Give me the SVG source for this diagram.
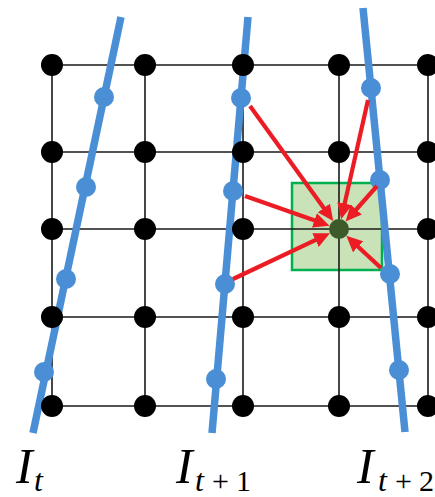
<svg xmlns="http://www.w3.org/2000/svg" width="435" height="497" viewBox="0 0 435 497">
<defs>
<style>
.grid{stroke:#1a1a1a;stroke-width:1.6;fill:none}
.node{fill:#000}
.blue{stroke:#4a8fd6;stroke-width:7.5;fill:none;stroke-linecap:butt}
.bdot{fill:#4a8fd6}
.arr{stroke:#ec1c24;stroke-width:4.2;fill:none;marker-end:url(#ah)}
.lbl{font-family:"Liberation Serif","Times New Roman",serif;fill:#000}
</style>
<marker id="ah" markerUnits="userSpaceOnUse" markerWidth="16" markerHeight="15" refX="8" refY="7.5" orient="auto">
<path d="M0,0 L16,7.5 L0,15 z" fill="#ec1c24"/>
</marker>
</defs>
<rect x="0" y="0" width="435" height="497" fill="#fff"/>
<g id="window">
<rect x="292" y="183" width="90" height="87" fill="#c9e2b8" stroke="#00b050" stroke-width="2.5"/>
</g>
<g id="grid-lines">
<path class="grid" d="M52,65H428M52,152H428M52,229H428M52,317H428M52,406H428M52,65V406M145,65V406M243,65V406M339,65V406M428,65V406"/>
</g>
<g id="frame-It">
<line class="blue" x1="121" y1="17" x2="33" y2="433"/>
<circle class="bdot" cx="104" cy="97" r="10"/>
<circle class="bdot" cx="86" cy="187" r="10"/>
<circle class="bdot" cx="66" cy="279" r="10"/>
<circle class="bdot" cx="44" cy="372" r="10"/>
</g>
<g id="frame-It1">
<line class="blue" x1="248" y1="17" x2="212" y2="433"/>
<circle class="bdot" cx="241" cy="98" r="10"/>
<circle class="bdot" cx="233" cy="191" r="10"/>
<circle class="bdot" cx="225" cy="284" r="10"/>
<circle class="bdot" cx="216" cy="379" r="10"/>
</g>
<g id="frame-It2">
<line class="blue" x1="363" y1="8" x2="405" y2="432"/>
<circle class="bdot" cx="371" cy="88" r="10"/>
<circle class="bdot" cx="380" cy="180" r="10"/>
<circle class="bdot" cx="390" cy="274" r="10"/>
<circle class="bdot" cx="399" cy="370" r="10"/>
</g>
<g id="pixels">
<circle class="node" cx="52" cy="65" r="11"/><circle class="node" cx="145" cy="65" r="11"/><circle class="node" cx="243" cy="65" r="11"/><circle class="node" cx="339" cy="65" r="11"/><circle class="node" cx="428" cy="65" r="11"/>
<circle class="node" cx="52" cy="152" r="11"/><circle class="node" cx="145" cy="152" r="11"/><circle class="node" cx="243" cy="152" r="11"/><circle class="node" cx="339" cy="152" r="11"/><circle class="node" cx="428" cy="152" r="11"/>
<circle class="node" cx="52" cy="229" r="11"/><circle class="node" cx="145" cy="229" r="11"/><circle class="node" cx="243" cy="229" r="11"/><circle class="node" cx="428" cy="229" r="11"/>
<circle class="node" cx="52" cy="317" r="11"/><circle class="node" cx="145" cy="317" r="11"/><circle class="node" cx="243" cy="317" r="11"/><circle class="node" cx="339" cy="317" r="11"/><circle class="node" cx="428" cy="317" r="11"/>
<circle class="node" cx="52" cy="406" r="11"/><circle class="node" cx="145" cy="406" r="11"/><circle class="node" cx="243" cy="406" r="11"/><circle class="node" cx="339" cy="406" r="11"/><circle class="node" cx="428" cy="406" r="11"/>
</g>
<g id="target">
<circle cx="339" cy="229" r="10" fill="#3d5a2a"/>
</g>
<g id="connectors">
<line class="arr" x1="250" y1="106" x2="328.5" y2="214.4"/>
<line class="arr" x1="245" y1="196" x2="322" y2="223"/>
<line class="arr" x1="233" y1="279" x2="322.7" y2="236.7"/>
<line class="arr" x1="368" y1="100" x2="342.9" y2="211.4"/>
<line class="arr" x1="377" y1="186" x2="350.9" y2="215.5"/>
<line class="arr" x1="381" y1="268" x2="352.2" y2="241.3"/>
</g>
<g id="labels">
<text class="lbl" y="483"><tspan x="16" font-size="50" font-style="italic">I</tspan><tspan x="34" y="491" font-size="32" font-style="italic">t</tspan></text>
<text class="lbl" y="483"><tspan x="176" font-size="50" font-style="italic">I</tspan><tspan x="195" y="491" font-size="32" font-style="italic">t</tspan><tspan x="212" y="491" font-size="30">+</tspan><tspan x="236" y="491" font-size="30">1</tspan></text>
<text class="lbl" y="483"><tspan x="357" font-size="50" font-style="italic">I</tspan><tspan x="378" y="491" font-size="32" font-style="italic">t</tspan><tspan x="395" y="491" font-size="30">+</tspan><tspan x="419" y="491" font-size="30">2</tspan></text>
</g>
</svg>
